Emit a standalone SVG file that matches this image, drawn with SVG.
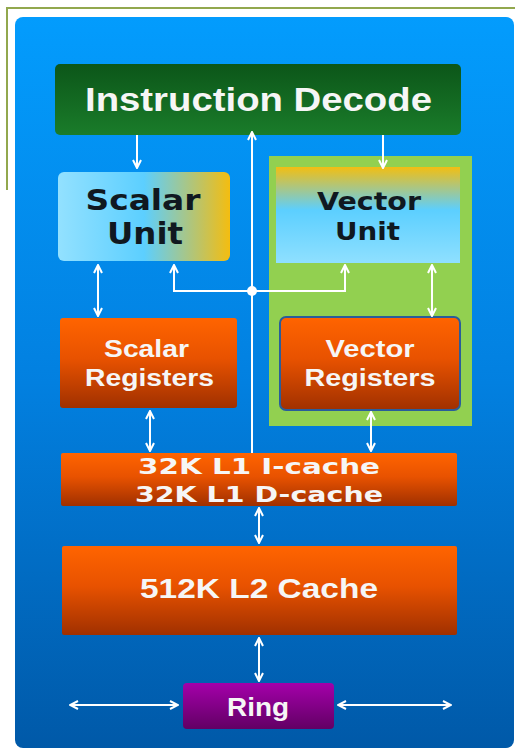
<svg xmlns="http://www.w3.org/2000/svg" width="515" height="750" viewBox="0 0 515 750">
  <defs>
    <linearGradient id="panelGrad" x1="0" y1="0" x2="0" y2="1">
      <stop offset="0" stop-color="#039cfd"/>
      <stop offset="0.5" stop-color="#0280e0"/>
      <stop offset="1" stop-color="#0059a8"/>
    </linearGradient>
    <linearGradient id="decodeGrad" x1="0" y1="0" x2="0" y2="1">
      <stop offset="0" stop-color="#0c5619"/>
      <stop offset="1" stop-color="#1a7c2a"/>
    </linearGradient>
    <linearGradient id="scalarGrad" x1="0" y1="0" x2="1" y2="0">
      <stop offset="0" stop-color="#93e1ff"/>
      <stop offset="0.5" stop-color="#5ccfff"/>
      <stop offset="1" stop-color="#f4bd10"/>
    </linearGradient>
    <linearGradient id="vectorGrad" x1="0" y1="0" x2="0" y2="1">
      <stop offset="0" stop-color="#f2be12"/>
      <stop offset="0.45" stop-color="#5ccfff"/>
      <stop offset="1" stop-color="#8fe0ff"/>
    </linearGradient>
    <linearGradient id="orangeGrad" x1="0" y1="0" x2="0" y2="1">
      <stop offset="0" stop-color="#ff6400"/>
      <stop offset="0.45" stop-color="#e85200"/>
      <stop offset="1" stop-color="#a03000"/>
    </linearGradient>
    <linearGradient id="ringGrad" x1="0" y1="0" x2="0" y2="1">
      <stop offset="0" stop-color="#a400aa"/>
      <stop offset="1" stop-color="#620064"/>
    </linearGradient>
    <marker id="head" viewBox="0 0 10 10" refX="9" refY="5" markerWidth="10" markerHeight="10" markerUnits="userSpaceOnUse" orient="auto-start-reverse">
      <path d="M1,1 L9,5 L1,9" fill="none" stroke="#ffffff" stroke-width="2" stroke-linejoin="miter"/>
    </marker>
    <style>
      .link { stroke: #ffffff; stroke-width: 2; fill: none; }
      .sans { font-family: "Liberation Sans", Arial, sans-serif; font-weight: bold; text-anchor: middle; }
      .wide { font-family: "DejaVu Sans", Verdana, sans-serif; font-weight: bold; text-anchor: middle; }
      .white { fill: #f6f6f6; }
      .dark { fill: #101820; }
    </style>
  </defs>

  <!-- page frame -->
  <path d="M7,190 L7,8 L515,8" fill="none" stroke="#92a84e" stroke-width="2"/>

  <!-- core panel -->
  <rect x="15" y="17" width="499" height="731" rx="8" fill="url(#panelGrad)"/>

  <g id="decode">
    <rect x="55" y="64" width="406" height="71" rx="5" fill="url(#decodeGrad)"/>
    <text class="sans white" x="258.5" y="111" font-size="34" textLength="347" lengthAdjust="spacingAndGlyphs">Instruction Decode</text>
  </g>

  <g id="vector-group">
    <rect x="269" y="156" width="203" height="270" fill="#92d050"/>
  </g>

  <g id="scalar-unit">
    <rect x="58" y="172" width="172" height="89" rx="6" fill="url(#scalarGrad)"/>
    <text class="wide dark" x="143" y="210" font-size="29" textLength="115" lengthAdjust="spacingAndGlyphs">Scalar</text>
    <text class="wide dark" x="145" y="244" font-size="31" textLength="76" lengthAdjust="spacingAndGlyphs">Unit</text>
  </g>

  <g id="vector-unit">
    <rect x="276" y="167" width="184" height="96" fill="url(#vectorGrad)"/>
    <text class="wide dark" x="369" y="210" font-size="24" textLength="104" lengthAdjust="spacingAndGlyphs">Vector</text>
    <text class="wide dark" x="367.5" y="240" font-size="24" textLength="65" lengthAdjust="spacingAndGlyphs">Unit</text>
  </g>

  <g id="scalar-registers">
    <rect x="60" y="318" width="177" height="90" rx="3" fill="url(#orangeGrad)"/>
    <text class="sans white" x="146.5" y="357" font-size="23" textLength="85" lengthAdjust="spacingAndGlyphs">Scalar</text>
    <text class="sans white" x="149.5" y="386" font-size="23" textLength="129" lengthAdjust="spacingAndGlyphs">Registers</text>
  </g>

  <g id="vector-registers">
    <rect x="280" y="317" width="180" height="93" rx="6" fill="url(#orangeGrad)" stroke="#2a5d9a" stroke-width="2"/>
    <text class="sans white" x="370" y="357" font-size="23" textLength="89" lengthAdjust="spacingAndGlyphs">Vector</text>
    <text class="sans white" x="370" y="386" font-size="23" textLength="131" lengthAdjust="spacingAndGlyphs">Registers</text>
  </g>

  <g id="l1-cache">
    <rect x="61" y="453" width="396" height="53" rx="2" fill="url(#orangeGrad)"/>
    <text class="wide white" x="259" y="474" font-size="21" textLength="242" lengthAdjust="spacingAndGlyphs">32K L1 I-cache</text>
    <text class="wide white" x="259" y="502" font-size="21" textLength="248" lengthAdjust="spacingAndGlyphs">32K L1 D-cache</text>
  </g>

  <g id="l2-cache">
    <rect x="62" y="546" width="395" height="89" rx="2" fill="url(#orangeGrad)"/>
    <text class="sans white" x="259" y="598" font-size="28" textLength="238" lengthAdjust="spacingAndGlyphs">512K L2 Cache</text>
  </g>

  <g id="ring">
    <rect x="183" y="683" width="151" height="46" rx="4" fill="url(#ringGrad)"/>
    <text class="sans white" x="258" y="716" font-size="25" textLength="62" lengthAdjust="spacingAndGlyphs">Ring</text>
  </g>

  <g id="connectors">
    <!-- decode to execution units -->
    <line class="link" x1="137" y1="135" x2="137" y2="168" marker-end="url(#head)"/>
    <line class="link" x1="383" y1="135" x2="383" y2="168" marker-end="url(#head)"/>
    <!-- cache feedback into decode -->
    <line class="link" x1="252" y1="453" x2="252" y2="132" marker-end="url(#head)"/>
    <!-- branch to both units -->
    <path class="link" d="M252,291 L174,291 L174,265" marker-end="url(#head)"/>
    <path class="link" d="M252,291 L345,291 L345,265" marker-end="url(#head)"/>
    <circle cx="252" cy="291" r="5" fill="#ffffff"/>
    <!-- units to registers -->
    <line class="link" x1="98" y1="265" x2="98" y2="316" marker-start="url(#head)" marker-end="url(#head)"/>
    <line class="link" x1="432" y1="265" x2="432" y2="316" marker-start="url(#head)" marker-end="url(#head)"/>
    <!-- registers to L1 -->
    <line class="link" x1="150" y1="411" x2="150" y2="451" marker-start="url(#head)" marker-end="url(#head)"/>
    <line class="link" x1="371" y1="412" x2="371" y2="451" marker-start="url(#head)" marker-end="url(#head)"/>
    <!-- L1 to L2 -->
    <line class="link" x1="259" y1="508" x2="259" y2="543" marker-start="url(#head)" marker-end="url(#head)"/>
    <!-- L2 to ring -->
    <line class="link" x1="259" y1="638" x2="259" y2="681" marker-start="url(#head)" marker-end="url(#head)"/>
    <!-- ring neighbours -->
    <line class="link" x1="70" y1="705" x2="178" y2="705" marker-start="url(#head)" marker-end="url(#head)"/>
    <line class="link" x1="338" y1="705" x2="451" y2="705" marker-start="url(#head)" marker-end="url(#head)"/>
  </g>
</svg>
